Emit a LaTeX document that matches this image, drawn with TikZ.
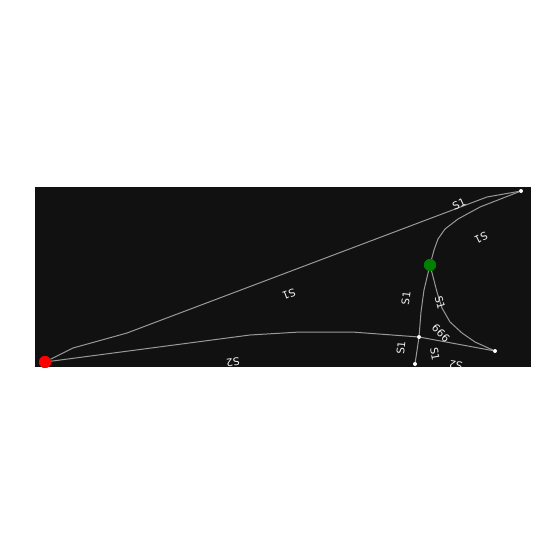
\documentclass[tikz,border=0pt]{standalone}
\usepackage{fontspec}
\setmainfont{DejaVu Sans}
\usetikzlibrary{calc}
\definecolor{bgdark}{HTML}{111111}
\definecolor{roadgray}{HTML}{999999}
\definecolor{origred}{HTML}{FF0000}
\definecolor{destgreen}{HTML}{008000}
\begin{document}
\begin{tikzpicture}[x=1pt,y=-1pt,every node/.style={inner sep=0pt},
  road/.style={draw=roadgray,line width=1pt},
  lbl/.style={text=white!95!black,font=\fontsize{10.5}{10.5}\selectfont},
  vtx/.style={circle,fill=white,minimum size=4pt},
  endpt/.style={circle,minimum size=12pt}]
	\useasboundingbox(0,0)rectangle(550,550);
	\fill[white](0,0)rectangle(550,550);
	\fill[bgdark](35,187)rectangle(531,367);
	% vertices
	\node(orig)at(45,362)[endpt,fill=origred]{};
	\node(dest)at(430,265)[endpt,fill=destgreen]{};
	\node(ne)at(521,191)[vtx]{};
	\node(east)at(495,351)[vtx]{};
	\node(jn)at(419,337)[vtx]{};
	\node(south)at(415,364)[vtx]{};
	% roads
	\draw[road](orig)--(73,348)--(127,333)--(487,197)--(ne);
	\draw[road](orig)--(250,335)--(300,332)--(352,332)--(jn);
	\draw[road](jn)--(east);
	\draw[road](dest)--(434,250)--(438,239)--(445,229)--(458,219)--(480,207)--(ne);
	\draw[road](dest)--(424,290)--(421,312)--(jn);
	\draw[road](jn)--(south);
	\draw[road](dest)--(437,292)--(442,308)--(450,322)--(462,333)--(475,342)--(east);
	% redraw vertices on top
	\node at(orig)[endpt,fill=origred]{};
	\node at(dest)[endpt,fill=destgreen]{};
	% labels
	\begin{scope}
	\clip(35,187)rectangle(531,367);
	\node(l1)at(459,204)[lbl,rotate=25]{S1};
	\node(l2)at(481,238)[lbl,rotate=206]{S1};
	\node(l3)at(289,294)[lbl,rotate=200]{S1};
	\node(l4)at(233,362)[lbl,rotate=188]{S2};
	\node(l5)at(456,365)[lbl,rotate=170]{S2};
	\node(l6)at(406,298)[lbl,rotate=83]{S1};
	\node(l7)at(401,348)[lbl,rotate=85]{S1};
	\node(l8)at(440,303)[lbl,rotate=-75]{S1};
	\node(l9)at(441,333)[lbl,rotate=-45]{666};
	\node(l10)at(435,354)[lbl,rotate=-80]{S1};
	\end{scope}
\end{tikzpicture}
\end{document}
